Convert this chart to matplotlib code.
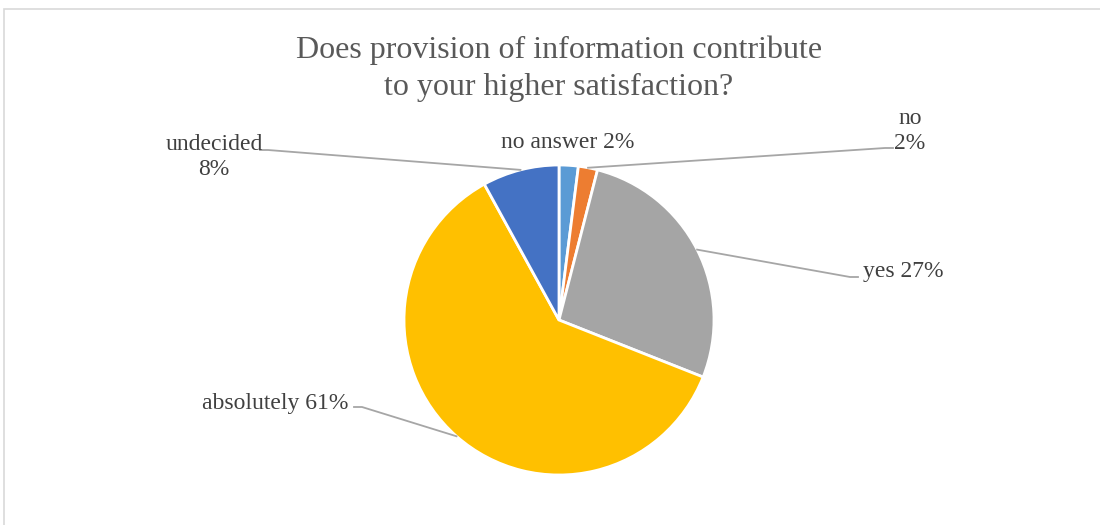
import matplotlib.pyplot as plt
import numpy as np
from matplotlib.patches import Rectangle

labels = ["no answer", "no", "yes", "absolutely", "undecided"]
shares = [2, 2, 27, 61, 8]
colors = ["#5B9BD5", "#ED7D31", "#A5A5A5", "#FFC000", "#4472C4"]

plt.rcParams['font.family'] = ['Liberation Serif', 'DejaVu Serif']

fig = plt.figure(figsize=(11, 5.25), dpi=100)
ax = fig.add_axes([0, 0, 1, 1])

cx, cy, r = 559, 205, 155
wedges, _ = ax.pie(shares, colors=colors, startangle=90, counterclock=False,
                   center=(cx, cy), radius=r, frame=True,
                   wedgeprops=dict(edgecolor='white', linewidth=2))
ax.set_xlim(0, 1100)
ax.set_ylim(0, 525)
ax.set_aspect('equal')
ax.axis('off')

# chart frame (runs off the right and bottom edges)
ax.add_patch(Rectangle((4, -20), 1200, 536, fill=False,
                       edgecolor='#D9D9D9', linewidth=1.2))

ax.text(559, 456, "Does provision of information contribute\nto your higher satisfaction?",
        ha='center', va='center', fontsize=23, color='#595959', linespacing=1.35)

txt_color = '#404040'
line_color = '#A6A6A6'

# label anchor positions and where the leader line bends
label_pos = {
    "undecided": ((214, 368), (268, 375)),
    "no answer": ((568, 382), None),
    "no": ((910, 394), (893, 377)),
    "yes": ((903, 253), (858, 248)),
    "absolutely": ((275, 122), (362, 118)),
}

for w, lab, pct in zip(wedges, labels, shares):
    ang = np.deg2rad((w.theta1 + w.theta2) / 2)
    px, py = cx + r * np.cos(ang), cy + r * np.sin(ang)
    (tx, ty), bend = label_pos[lab]
    if lab in ("undecided", "no"):
        s = f"{lab}\n{pct}%"
    else:
        s = f"{lab} {pct}%"
    ax.text(tx, ty, s, ha='center', va='center', fontsize=17, color=txt_color,
            linespacing=1.28)
    if bend is not None:
        if lab in ("undecided", "absolutely"):
            xs = [bend[0] - 8, bend[0], px]
        else:
            xs = [bend[0], bend[0] - 8, px]
        ys = [bend[1], bend[1], py]
        ax.plot(xs, ys, color=line_color, linewidth=1.3)

fig.savefig("out.png", dpi=100)
